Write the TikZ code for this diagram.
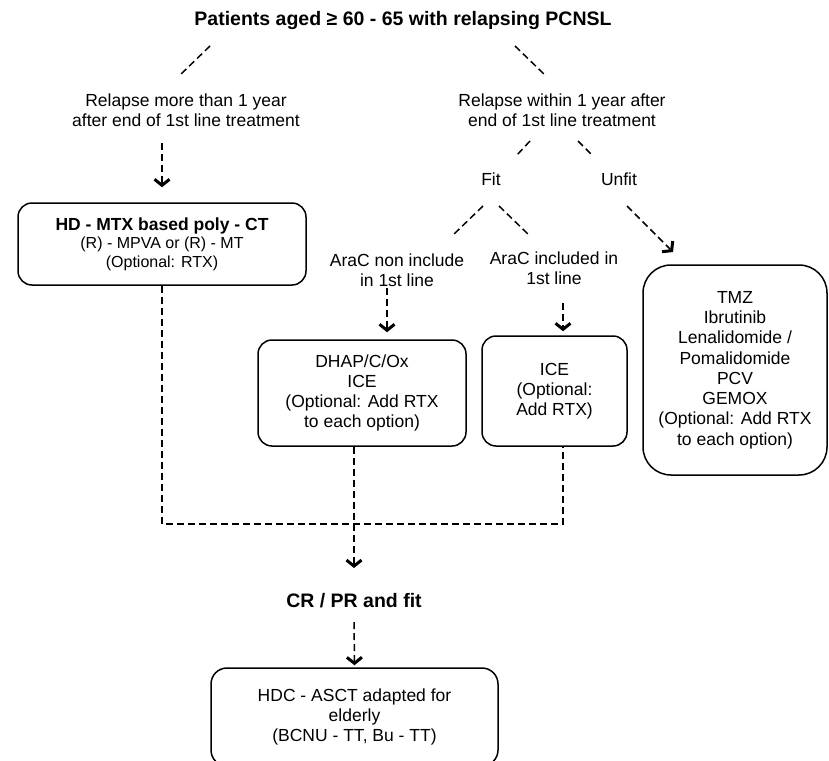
\documentclass[tikz,border=0pt]{standalone}
\usepackage{fontspec}
\setmainfont{Liberation Sans}
\usetikzlibrary{arrows.meta}

\begin{document}
\begin{tikzpicture}[x=1pt, y=-1pt, line width=1.5pt,
    txt/.style={align=center, inner sep=0pt, font=\fontsize{17.5}{20.3}\selectfont},
    head/.style={inner sep=0pt, font=\fontsize{19.5}{22}\selectfont\bfseries},
    box/.style={draw, rounded corners=14pt, align=center, inner sep=0pt,
        font=\fontsize{17.5}{20.3}\selectfont},
    branch/.style={dash pattern=on 7pt off 4pt},
    flow/.style={branch, -{Straight Barb[length=6pt, width=15pt, line width=3pt]}}]
    \useasboundingbox (0,0) rectangle (829,760);

    \node[head] (title) at (403,21) {Patients aged ≥ 60 - 65 with relapsing PCNSL};
    \node[txt] (relmore) at (186,110) {Relapse more than 1 year\\after end of 1st line treatment};
    \node[txt] (relwithin) at (562,110) {Relapse within 1 year after\\end of 1st line treatment};
    \node[txt] (fit) at (491,179) {Fit};
    \node[txt] (unfit) at (619,179) {Unfit};
    \node[txt] (aranon) at (397,270) {AraC non include\\in 1st line};
    \node[txt] (arain) at (554,268) {AraC included in\\1st line};

    \node[box, minimum width=288pt, minimum height=82pt,
        font=\fontsize{16}{18.5}\selectfont] (hdmtx) at (162,244)
        {{\fontsize{17.5}{20}\selectfont\bfseries HD - MTX based poly - CT}\\(R) - MPVA or (R) - MT\\(Optional: RTX)};
    \node[box, minimum width=208pt, minimum height=106pt] (dhap) at (362,393)
        {DHAP/C/Ox\\ICE\\(Optional: Add RTX\\to each option)};
    \node[box, minimum width=145pt, minimum height=110pt] (ice) at (554.5,391)
        {ICE\\(Optional:\\Add RTX)};
    \node[box, rounded corners=28pt, minimum width=184pt, minimum height=210pt] (tmz) at (735,370)
        {TMZ\\Ibrutinib\\Lenalidomide /\\Pomalidomide\\PCV\\GEMOX\\(Optional: Add RTX\\to each option)};
    \node[head] (crpr) at (354,601) {CR / PR and fit};
    \node[box, rounded corners=16pt, minimum width=287pt, minimum height=98pt] (hdc) at (354.5,717)
        {HDC - ASCT adapted for\\elderly\\(BCNU - TT, Bu - TT)};

    \draw[branch] ([shift={(-193,25)}]title.center) -- ([shift={(-7,-34)}]relmore.center);
    \draw[branch] ([shift={(112,25)}]title.center) -- ([shift={(-16,-34)}]relwithin.center);
    \draw[flow] ([shift={(-24,33)}]relmore.center) -- ([shift={(0,-15)}]hdmtx.north);
    \draw[branch] ([shift={(-32,31)}]relwithin.center) -- ([shift={(26,-24)}]fit.center);
    \draw[branch] ([shift={(16,31)}]relwithin.center) -- ([shift={(-27,-24)}]unfit.center);
    \draw[branch] ([shift={(-8,27)}]fit.center) -- ([shift={(55,-34)}]aranon.center);
    \draw[branch] ([shift={(8,27)}]fit.center) -- ([shift={(-24,-32)}]arain.center);
    \draw[flow] ([shift={(8,27)}]unfit.center) -- ([shift={(-62,-118)}]tmz.center);
    \draw[flow] ([shift={(-10,18)}]aranon.center) -- ([shift={(25,-7)}]dhap.north);
    \draw[flow] ([shift={(9,35)}]arain.center) -- ([shift={(8.5,-4)}]ice.north);
    \draw[branch] (hdmtx.south) -- ++(0,238) -| ([xshift=8.5pt]ice.south);
    \draw[flow] ([xshift=-8pt]dhap.south) -- ([shift={(0,-33)}]crpr.center);
    \draw[flow] ([shift={(0,21)}]crpr.center) -- ([shift={(0,-2)}]hdc.north);
\end{tikzpicture}
\end{document}
